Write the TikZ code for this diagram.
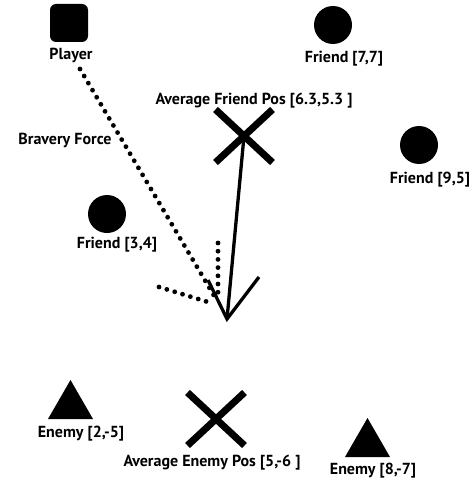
\documentclass[tikz,border=0pt]{standalone}
\usepackage{fontspec}
\setmainfont{PT Sans}
\usetikzlibrary{shapes.geometric,shapes.misc}
\tikzset{
  lbl/.style={font=\bfseries\fontsize{16}{18}\selectfont, inner sep=0pt},
  friend/.style={circle, fill=black, minimum size=38pt, inner sep=0pt},
  enemy/.style={regular polygon, regular polygon sides=3, fill=black, minimum size=52pt, inner sep=0pt},
  avgpos/.style={cross out, draw=black, line width=7pt, minimum width=50pt, minimum height=46pt, inner sep=0pt},
  playerbox/.style={rectangle, rounded corners=6pt, fill=black, minimum size=38pt, inner sep=0pt},
  dotline/.style={line width=4.8pt, line cap=round, dash pattern=on 0pt off 8.2pt},
  solidline/.style={line width=3.3pt}
}
\begin{document}
\begin{tikzpicture}[x=1pt,y=-1pt]
\useasboundingbox (0,0) rectangle (476,487);

% player and its label
\node[playerbox] (player) at (69,23) {};
\node[lbl] (playerlbl) at (71,55) {Player};

% friends
\node[friend] (f77) at (333,25) {};
\node[lbl] (f77lbl) at (344,59) {Friend [7,7]};
\node[friend] (f95) at (419,145) {};
\node[lbl] (f95lbl) at (430,180) {Friend [9,5]};
\node[friend] (f34) at (107,214) {};
\node[lbl] (f34lbl) at (117,245) {Friend [3,4]};

% enemies
\node[enemy] (e25) at (70.5,406) {};
\node[lbl] (e25lbl) at (81,434) {Enemy [2,-5]};
\node[enemy] (e87) at (367.5,444) {};
\node[lbl] (e87lbl) at (373,471) {Enemy [8,-7]};

% averaged positions
\node[avgpos] (favg) at (244,136) {};
\node[lbl] (favglbl) at (254,101) {Average Friend Pos [6.3,5.3 ]};
\node[avgpos] (eavg) at (216,419) {};
\node[lbl] (eavglbl) at (212,463) {Average Enemy Pos [5,-6 ]};

\node[lbl] (bravery) at (65,140) {Bravery Force};

% bravery force (dotted arrow)
\coordinate (btip) at (216,299);
\coordinate (bstart) at (80,69);
\coordinate (barmA) at (218,243);
\coordinate (barmB) at (159,287);
\draw[dotline] (bstart) -- (btip);
\draw[dotline] (barmA) -- (218,296);
\draw[dotline] (barmB) -- (208,302);

% pull towards the friends (solid arrow)
\coordinate (ftip) at (227,319);
\coordinate (farmA) at (208,280);
\coordinate (farmB) at (259,277);
\draw[solidline] (favg.center) -- (ftip);
\draw[solidline, line join=miter] (farmA) -- (ftip) -- (farmB);
\end{tikzpicture}
\end{document}
